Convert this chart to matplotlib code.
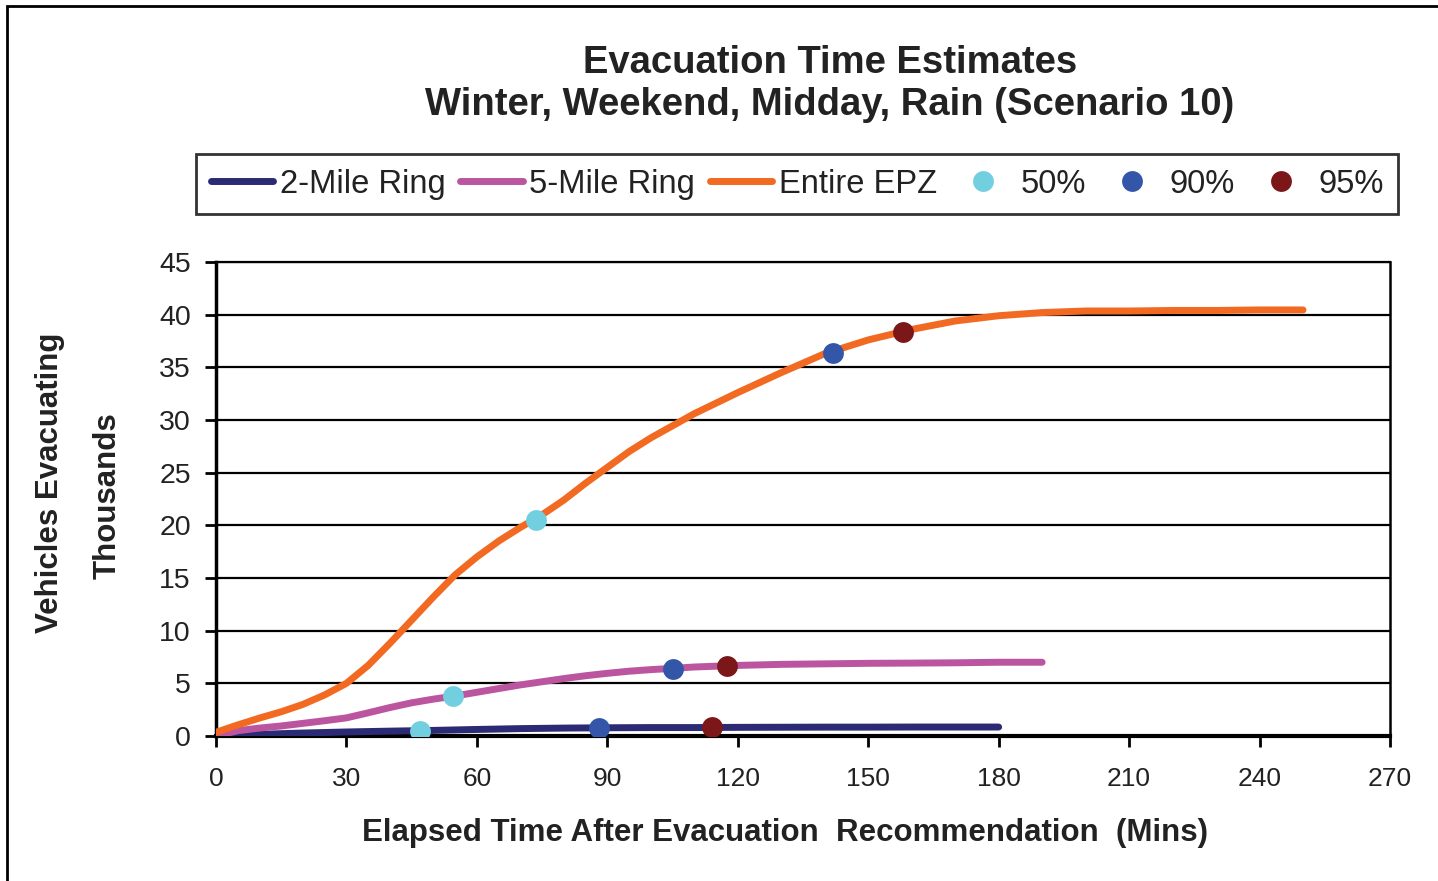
import matplotlib
matplotlib.use("Agg")
import matplotlib.pyplot as plt
from matplotlib.patches import Rectangle

plt.rcParams['font.family'] = ['Liberation Sans', 'DejaVu Sans']

# elapsed minutes and vehicles evacuating (thousands)
t_2mile = [0, 5, 10, 15, 20, 30, 40, 50, 60, 70, 80, 90, 100, 110, 120, 130, 140, 150, 160, 170, 180]
v_2mile = [0, 0.08, 0.15, 0.22, 0.28, 0.38, 0.46, 0.53, 0.62, 0.7, 0.75, 0.78, 0.8, 0.8, 0.82, 0.83,
           0.84, 0.84, 0.85, 0.85, 0.85]

t_5mile = [0, 5, 10, 15, 20, 25, 30, 35, 40, 45, 50, 55, 60, 65, 70, 75, 80, 85, 90, 95, 100,
           105, 110, 120, 130, 140, 150, 160, 170, 180, 190]
v_5mile = [0, 0.5, 0.75, 0.95, 1.2, 1.45, 1.72, 2.2, 2.7, 3.15, 3.5, 3.8, 4.15, 4.5, 4.85, 5.15,
           5.45, 5.72, 5.95, 6.15, 6.3, 6.42, 6.55, 6.7, 6.8, 6.85, 6.9, 6.92, 6.95, 7.0, 7.0]

t_epz = [0, 5, 10, 15, 20, 25, 30, 35, 40, 45, 50, 55, 60, 65, 70, 75, 80, 85, 90, 95, 100,
         110, 120, 130, 140, 150, 160, 170, 180, 190, 200, 210, 220, 230, 240, 250]
v_epz = [0.35, 1.05, 1.7, 2.3, 3.0, 3.9, 5.0, 6.7, 8.8, 11.0, 13.2, 15.3, 17.0, 18.5, 19.8, 21.0,
         22.4, 24.0, 25.5, 27.0, 28.3, 30.6, 32.6, 34.5, 36.3, 37.6, 38.6, 39.4, 39.9, 40.2,
         40.35, 40.35, 40.4, 40.4, 40.45, 40.45]

# time / vehicles at which 50%, 90%, 95% of each region has evacuated
p50_t = [47, 54.5, 73.5]
p50_v = [0.5, 3.75, 20.5]
p90_t = [88, 105, 142]
p90_v = [0.78, 6.4, 36.4]
p95_t = [114, 117.5, 158]
p95_v = [0.81, 6.65, 38.4]

fig = plt.figure(figsize=(14.38, 8.81), dpi=100)
ax = fig.add_axes([0.1502, 0.1646, 0.8164, 0.538])

line_kw = dict(lw=5, solid_capstyle='round', solid_joinstyle='round', zorder=3)
ax.plot(t_2mile, v_2mile, color='#2b2a74', label='2-Mile Ring', **line_kw)
ax.plot(t_5mile, v_5mile, color='#bb55a0', label='5-Mile Ring', **line_kw)
ax.plot(t_epz, v_epz, color='#f26a22', label='Entire EPZ', **line_kw)

ax.plot(p50_t, p50_v, 'o', color='#72cfe0', ms=15, mec='none', label='50%', zorder=4)
ax.plot(p90_t, p90_v, 'o', color='#3456a8', ms=15, mec='none', label='90%', zorder=4)
ax.plot(p95_t, p95_v, 'o', color='#7b1619', ms=15, mec='none', label='95%', zorder=4)

ax.set_xlim(0, 270)
ax.set_ylim(0, 45)
ax.set_xticks(range(0, 271, 30))
ax.set_yticks(range(0, 46, 5))
ax.yaxis.grid(True, color='black', lw=1.6)
ax.set_axisbelow(True)
ax.tick_params(axis='both', direction='out', length=8, width=2, colors='black')
ax.tick_params(axis='y', pad=10, labelsize=20.5)
ax.tick_params(axis='x', pad=14, labelsize=19)
for tl in ax.get_xticklabels() + ax.get_yticklabels():
    tl.set_color('#222222')
ax.spines['left'].set_linewidth(2.5)
ax.spines['bottom'].set_linewidth(3)
ax.spines['right'].set_linewidth(1.8)
ax.spines['top'].set_linewidth(1.6)

fig.text(0.577, 0.929, 'Evacuation Time Estimates', ha='center', va='center',
         fontsize=27.5, fontweight='bold', color='#222222')
fig.text(0.577, 0.881, 'Winter, Weekend, Midday, Rain (Scenario 10)', ha='center', va='center',
         fontsize=27.5, fontweight='bold', color='#222222')

fig.text(0.546, 0.054, 'Elapsed Time After Evacuation  Recommendation  (Mins)', ha='center',
         va='center', fontsize=22.5, fontweight='bold', color='#222222')
fig.text(0.035, 0.452, 'Vehicles Evacuating', rotation=90, ha='center', va='center',
         fontsize=22.5, fontweight='bold', color='#222222')
fig.text(0.075, 0.437, 'Thousands', rotation=90, ha='center', va='center',
         fontsize=22.5, fontweight='bold', color='#222222')

leg = fig.legend(loc='center', bbox_to_anchor=(0.5545, 0.791), ncol=6, fontsize=23.6,
                 frameon=True, fancybox=False, edgecolor='black', handlelength=1.9,
                 handletextpad=0.2, columnspacing=0.45, borderpad=0.45, borderaxespad=0)
leg.get_frame().set_linewidth(2)
for txt in leg.get_texts():
    txt.set_color('#222222')

# border around the whole chart
fig.patches.append(Rectangle((0.005, -0.05), 1.1, 1.043, transform=fig.transFigure,
                             fill=False, edgecolor='black', lw=2))

fig.savefig('out.png', dpi=100)
